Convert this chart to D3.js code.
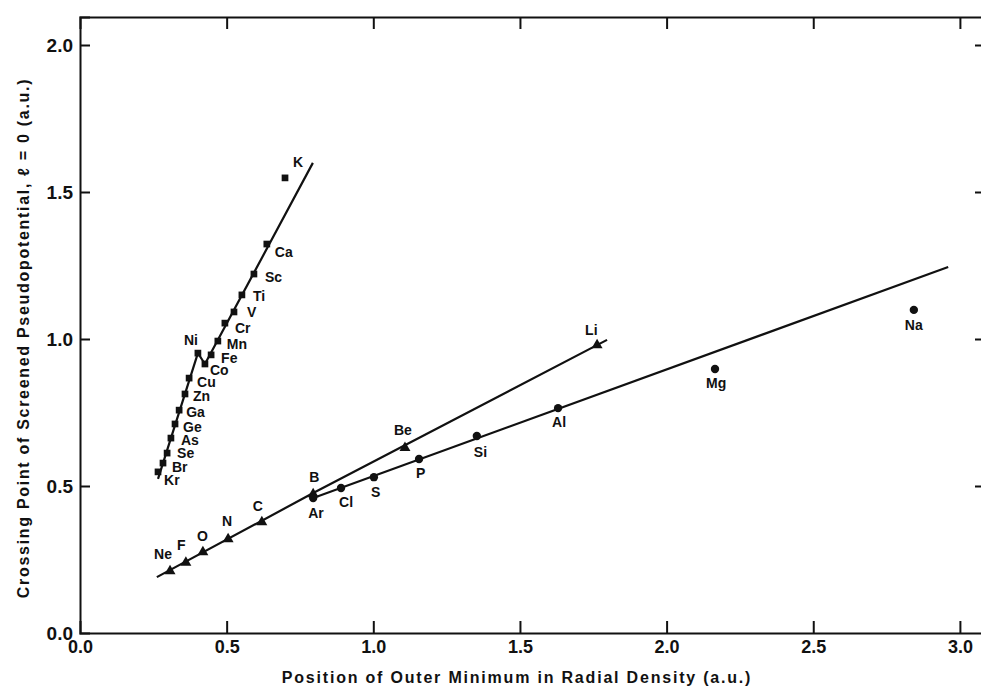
<!DOCTYPE html>
<html>
<head>
<meta charset="utf-8">
<script src="https://cdn.jsdelivr.net/npm/d3@7"></script>
<style>
  html, body { margin: 0; padding: 0; background: #fff; }
  svg { display: block; }
  text { font-family: "Liberation Sans", Arial, Helvetica, sans-serif; font-weight: bold; fill: #111; }
</style>
</head>
<body>
<svg id="chart" width="981" height="694"></svg>
<script>
// ---------- data ----------
const xTicks = [0.0, 0.5, 1.0, 1.5, 2.0, 2.5, 3.0];
const yTicks = [0.0, 0.5, 1.0, 1.5, 2.0];

// Fourth-row elements (squares)
const squareNames = ["K","Ca","Sc","Ti","V","Cr","Mn","Fe","Co","Ni","Cu","Zn","Ga","Ge","As","Se","Br","Kr"];
const squareX = [0.699,0.637,0.593,0.552,0.525,0.494,0.470,0.447,0.426,0.402,0.372,0.358,0.338,0.324,0.310,0.297,0.283,0.266];
const squareY = [1.548,1.323,1.221,1.150,1.092,1.054,0.993,0.946,0.915,0.952,0.867,0.813,0.758,0.711,0.663,0.612,0.578,0.548];
const squareLineX = [0.266,0.402,0.426,0.794];
const squareLineY = [0.524,0.952,0.915,1.599];

// Second-row elements (triangles)
const triangleNames = ["Ne","F","O","N","C","B","Be","Li"];
const triangleX = [0.307,0.361,0.419,0.505,0.620,0.795,1.108,1.763];
const triangleY = [0.214,0.243,0.279,0.323,0.381,0.476,0.633,0.983];
const triangleLineX = [0.262,0.795,1.797];
const triangleLineY = [0.190,0.476,0.997];

// Third-row elements (circles)
const circleNames = ["Ar","Cl","S","P","Si","Al","Mg","Na"];
const circleX = [0.795,0.890,1.002,1.156,1.353,1.630,2.165,2.843];
const circleY = [0.459,0.493,0.530,0.592,0.670,0.765,0.898,1.099];
const circleLineX = [0.795,2.960];
const circleLineY = [0.459,1.245];

const xTitle = "Position of Outer Minimum in Radial Density (a.u.)";
const yTitle = "Crossing Point of Screened Pseudopotential, \u2113 = 0 (a.u.)";

// ---------- layout (label offsets in px from marker: text start, baseline) ----------
const labelOffset = {
  K:[8,-11], Ca:[8,13], Sc:[11,8], Ti:[11,6], V:[13,5], Cr:[10,10], Mn:[9,8],
  Fe:[10,8], Co:[5,11], Ni:[-14,-8], Cu:[8,9], Zn:[8,7], Ga:[7,7], Ge:[8,8],
  As:[10,7], Se:[10,5], Br:[9,9], Kr:[6,13],
  Ne:[-16,-11], F:[-9,-12], O:[-6,-10], N:[-6,-12], C:[-9,-10], B:[-4,-11],
  Be:[-11,-12], Li:[-12,-9],
  Ar:[-5,20], Cl:[-2,19], S:[-3,20], P:[-3,19], Si:[-3,21], Al:[-6,19], Mg:[-9,19], Na:[-9,20]
};

const svg = d3.select("#chart");
const M = { left: 80, right: 983, top: 17, bottom: 633 };

const x = d3.scaleLinear().domain([0, (M.right - M.left) / 293.3]).range([M.left, M.right]);
const y = d3.scaleLinear().domain([0, (M.bottom - M.top) / 294]).range([M.bottom, M.top]);

const ink = "#111";

// Axes (ticks pointing inward)
const gx = svg.append("g").attr("transform", `translate(0,${M.bottom})`)
  .call(d3.axisBottom(x).tickValues(xTicks).tickSize(-12).tickPadding(7).tickFormat(d3.format(".1f")));
const gxTop = svg.append("g").attr("transform", `translate(0,${M.top})`)
  .call(d3.axisTop(x).tickValues(xTicks.filter(d => d > 0)).tickSize(-12).tickFormat(""));
const gy = svg.append("g").attr("transform", `translate(${M.left},0)`)
  .call(d3.axisLeft(y).tickValues(yTicks).tickSize(-10).tickPadding(7).tickFormat(d3.format(".1f")));
const gyR = svg.append("g").attr("transform", `translate(${M.right - 1},0)`)
  .call(d3.axisRight(y).tickValues(yTicks.filter(d => d > 0)).tickSize(-7).tickFormat(""));

[gx, gxTop, gy, gyR].forEach(g => {
  g.select(".domain").attr("stroke", ink).attr("stroke-width", 2);
  g.selectAll(".tick line").attr("stroke", ink).attr("stroke-width", 2);
  g.selectAll(".tick text").attr("font-weight", "bold")
    .attr("font-family", "Liberation Sans, Arial, sans-serif").attr("fill", ink);
});
gx.selectAll(".tick text").attr("font-size", 18);
gy.selectAll(".tick text").attr("font-size", 19);
gyR.select(".domain").remove();
gx.selectAll(".tick").filter(d => d === 0).select("line").remove();
gy.selectAll(".tick").filter(d => d === 0).select("line").remove();

// Lines
const line = d3.line().x(d => x(d[0])).y(d => y(d[1]));
function drawLine(xs, ys) {
  svg.append("path").datum(xs.map((v, i) => [v, ys[i]]))
    .attr("d", line).attr("fill", "none").attr("stroke", ink).attr("stroke-width", 2.2)
    .attr("stroke-linejoin", "round");
}
drawLine(squareLineX, squareLineY);
drawLine(triangleLineX, triangleLineY);
drawLine(circleLineX, circleLineY);

// Markers
const sym = {
  square: d3.symbol().type(d3.symbolSquare).size(45),
  triangle: d3.symbol().type(d3.symbolTriangle).size(52),
  circle: d3.symbol().type(d3.symbolCircle).size(55)
};
function drawSeries(names, xs, ys, kind) {
  const data = names.map((n, i) => ({ n, x: xs[i], y: ys[i] }));
  svg.append("g").selectAll("path").data(data).join("path")
    .attr("d", sym[kind])
    .attr("transform", d => `translate(${x(d.x)},${y(d.y) + (kind === "triangle" ? 1 : 0)})`)
    .attr("fill", ink);
  svg.append("g").selectAll("text").data(data).join("text")
    .attr("x", d => x(d.x) + labelOffset[d.n][0])
    .attr("y", d => y(d.y) + labelOffset[d.n][1])
    .attr("font-size", 14)
    .text(d => d.n);
}
drawSeries(squareNames, squareX, squareY, "square");
drawSeries(triangleNames, triangleX, triangleY, "triangle");
drawSeries(circleNames, circleX, circleY, "circle");

// Axis titles
svg.append("text").attr("x", 517).attr("y", 683).attr("text-anchor", "middle")
  .attr("font-size", 16).attr("letter-spacing", 1.8).text(xTitle);
svg.append("text").attr("transform", "translate(29,338) rotate(-90)").attr("text-anchor", "middle")
  .attr("font-size", 16).attr("letter-spacing", 1.7).text(yTitle);
</script>
</body>
</html>
